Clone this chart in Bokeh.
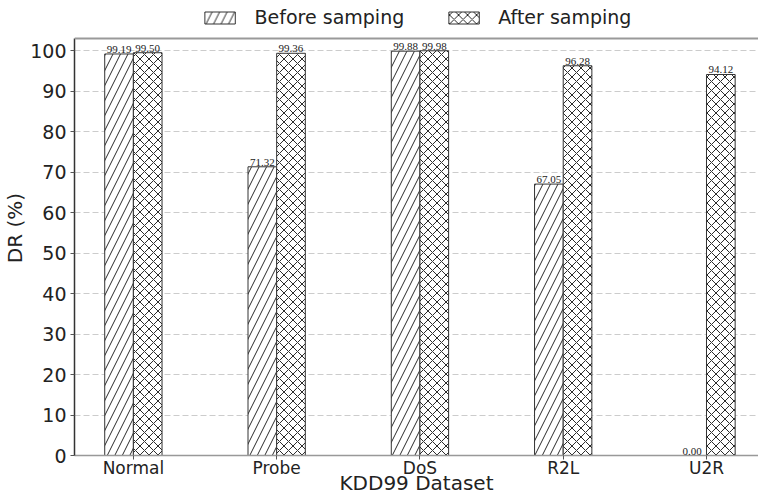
from bokeh.plotting import figure
from bokeh.models import ColumnDataSource, FixedTicker, Legend, LegendItem, Span, LabelSet
from bokeh.embed import file_html
from bokeh.resources import INLINE

categories = ["Normal", "Probe", "DoS", "R2L", "U2R"]
before = [99.19, 71.32, 99.88, 67.05, 0.00]
after = [99.50, 99.36, 99.98, 96.28, 94.12]
y_ticks = [0, 10, 20, 30, 40, 50, 60, 70, 80, 90, 100]

FONT = "DejaVu Sans"
idx = list(range(len(categories)))
bw = 0.2
Y_AX_TOP = 103

src_b = ColumnDataSource(dict(x=[i - bw / 2 for i in idx], top=before,
                              lbl=["%.2f" % v for v in before]))
src_a = ColumnDataSource(dict(x=[i + bw / 2 for i in idx], top=after,
                              lbl=["%.2f" % v for v in after]))

p = figure(width=758, height=497, output_backend="svg", toolbar_location=None,
           x_range=(-0.411, 4.363), y_range=(0, 112.4),
           min_border_left=72, min_border_right=0, min_border_top=0, min_border_bottom=0)

rb = p.vbar(x="x", top="top", width=bw, source=src_b, fill_color="white",
            line_color="#333333", line_width=1, hatch_pattern="/", hatch_color="#2a2a2a",
            hatch_scale=15, hatch_weight=1)
ra = p.vbar(x="x", top="top", width=bw, source=src_a, fill_color="white",
            line_color="#333333", line_width=1, hatch_pattern="x", hatch_color="#2a2a2a",
            hatch_scale=9, hatch_weight=1)

for src in (src_b, src_a):
    p.add_layout(LabelSet(x="x", y="top", text="lbl", source=src, text_align="center",
                          text_baseline="bottom", y_offset=1, text_font=FONT,
                          text_font_size="11px", text_color="#1a1a1a"))

p.outline_line_color = None
p.add_layout(Span(location=Y_AX_TOP, dimension="width", line_color="#999999", line_width=2))

p.xgrid.grid_line_color = None
p.ygrid.grid_line_color = "#cccccc"
p.ygrid.grid_line_dash = "6 3"
p.ygrid.grid_line_width = 1

p.xaxis.ticker = FixedTicker(ticks=idx)
p.xaxis.major_label_overrides = {i: c for i, c in zip(idx, categories)}
p.yaxis.ticker = FixedTicker(ticks=y_ticks)
p.yaxis.bounds = (0, Y_AX_TOP)
p.xaxis.minor_tick_line_color = None
p.yaxis.minor_tick_line_color = None

p.xaxis.axis_label = "KDD99 Dataset"
p.yaxis.axis_label = "DR (%)"
for ax in (p.xaxis, p.yaxis):
    ax.axis_label_text_font = FONT
    ax.axis_label_text_font_style = "normal"
    ax.axis_label_text_font_size = "20px"
    ax.axis_label_text_color = "#222222"
    ax.major_label_text_font = FONT
    ax.major_label_text_color = "#222222"
    ax.major_tick_in = 0
    ax.major_tick_out = 4
    ax.major_tick_line_color = "#555555"
p.xaxis.major_label_text_font_size = "17px"
p.yaxis.major_label_text_font_size = "19px"
p.xaxis.major_label_standoff = -2
p.xaxis.axis_label_standoff = -10
p.yaxis.major_label_standoff = 4
p.yaxis.axis_label_standoff = 0
p.xaxis.axis_line_color = "#999999"
p.xaxis.axis_line_width = 1.5
p.yaxis.axis_line_color = "#333333"
p.yaxis.axis_line_width = 1.5

legend = Legend(items=[LegendItem(label="Before samping", renderers=[rb]),
                       LegendItem(label="After samping", renderers=[ra])],
                orientation="horizontal", location="top_center")
legend.border_line_color = None
legend.background_fill_alpha = 0
legend.label_text_font = FONT
legend.label_text_font_size = "19px"
legend.label_text_color = "#222222"
legend.glyph_width = 38
legend.glyph_height = 15
legend.spacing = 40
legend.padding = 0
legend.margin = 6
legend.label_standoff = 16
p.add_layout(legend)

open("out.html", "w").write(file_html(p, INLINE))
